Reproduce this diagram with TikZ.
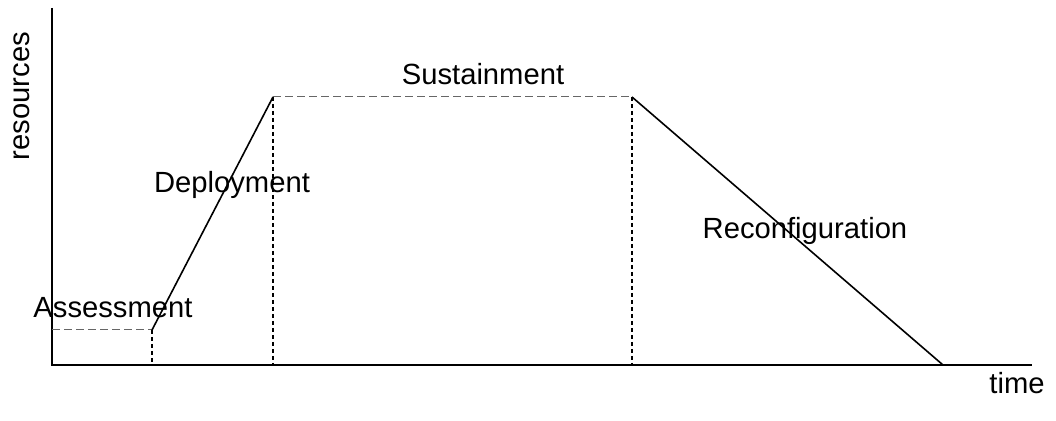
\documentclass[tikz,border=0pt]{standalone}
\usepackage{fontspec}
\setmainfont{Liberation Sans}
\usetikzlibrary{positioning}

\tikzset{
  phase/.style={font=\fontsize{14.6}{17}\selectfont, inner sep=0pt},
  curve/.style={line width=0.8pt},
  marker/.style={line width=0.9pt, dash pattern=on 2pt off 1.5pt},
  faint/.style={dash pattern=on 4pt off 2pt, line width=0.5pt, black!60}
}

\begin{document}
\begin{tikzpicture}[x=0.5pt, y=-0.5pt]
  \useasboundingbox (0,0) rectangle (1056,421);

  \coordinate (origin) at (52,365);
  \coordinate (ytop) at (52,8);
  \coordinate (xend) at (1032,365);
  \coordinate (assessend) at (152,330);
  \coordinate (assessstart) at (52,330);
  \coordinate (assessfoot) at (152,365);
  \coordinate (peakleft) at (273,97);
  \coordinate (peakleftfoot) at (273,365);
  \coordinate (peakright) at (632,97);
  \coordinate (peakrightfoot) at (632,365);
  \coordinate (zero) at (943,365);

  % axes
  \draw[line width=1pt] (ytop) -- (origin) -- (xend);
  \node[phase, rotate=90] (resources) at (22,96) {resources};
  \node[phase] (time) at (1017,383) {time};

  % plateaus
  \draw[faint] (assessstart) -- (assessend);
  \draw[faint] (peakleft) -- (peakright);

  % phase borders
  \draw[marker] (assessend) -- (assessfoot);
  \draw[marker] (peakleft) -- (peakleftfoot);
  \draw[marker] (peakright) -- (peakrightfoot);

  % ramps
  \draw[curve] (assessend) -- (peakleft);
  \draw[curve] (peakright) -- (zero);

  \node[phase] (assessment) at (113,308) {Assessment};
  \node[phase] (deployment) at (232,185) {Deployment};
  \node[phase] (sustainment) at (483,74) {Sustainment};
  \node[phase] (reconfiguration) at (805,231) {Reconfiguration};
\end{tikzpicture}
\end{document}
